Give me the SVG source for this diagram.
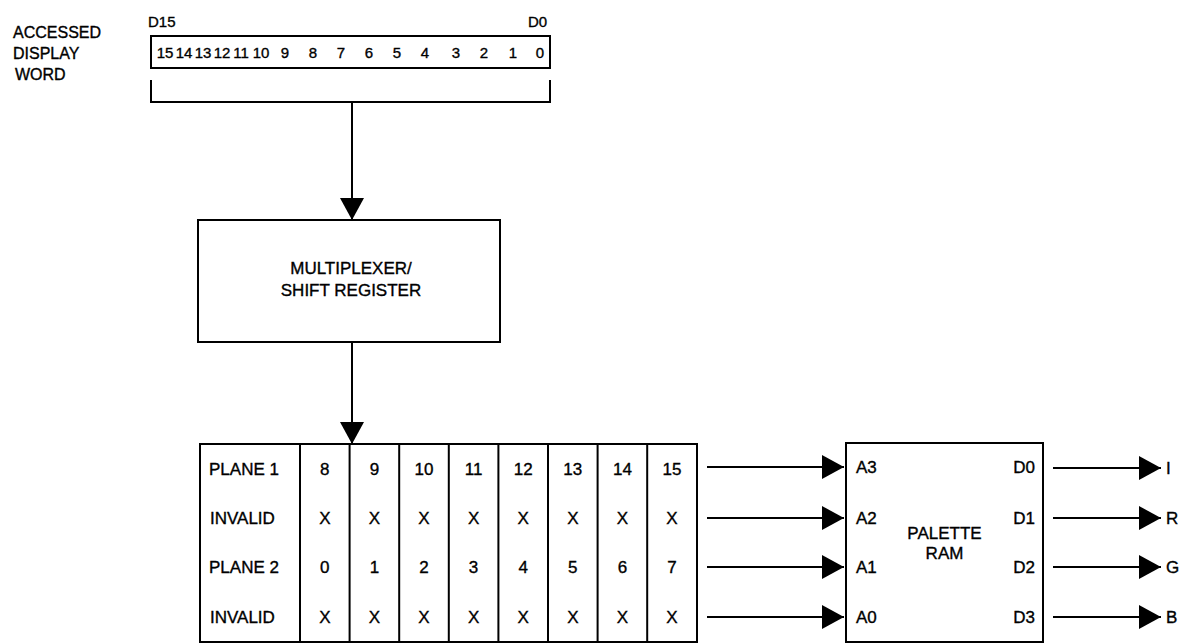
<svg xmlns="http://www.w3.org/2000/svg" width="1184" height="644" viewBox="0 0 1184 644">
<defs>
<marker id="ah" viewBox="0 0 22 24" markerWidth="22" markerHeight="24" refX="22" refY="12" orient="auto" markerUnits="userSpaceOnUse">
<path d="M0,0 L22,12 L0,24 Z" fill="#000"/>
</marker>
<style>
text{font-family:"Liberation Sans",Arial,sans-serif;fill:#000;stroke:#000;stroke-width:0.35}
.lbl{font-size:16px}
.sm{font-size:15px}
.cell{font-size:17px;text-anchor:middle}
.row{font-size:17px}
.box{fill:#fff;stroke:#000;stroke-width:2}
.ln{fill:none;stroke:#000;stroke-width:2}
.con{fill:none;stroke:#000;stroke-width:2;marker-end:url(#ah)}
</style>
</defs>
<rect width="1184" height="644" fill="#fff"/>

<g id="word-label">
<text class="lbl" x="13" y="38">ACCESSED</text>
<text class="lbl" x="13" y="59">DISPLAY</text>
<text class="lbl" x="15" y="80">WORD</text>
</g>

<g id="display-word">
<text class="sm" x="148" y="27">D15</text>
<text class="sm" x="528" y="27">D0</text>
<rect class="box" x="151" y="36" width="399" height="32"/>
<g class="sm" text-anchor="middle">
<text x="165" y="58">15</text>
<text x="184" y="58">14</text>
<text x="203" y="58">13</text>
<text x="222" y="58">12</text>
<text x="241" y="58">11</text>
<text x="261" y="58">10</text>
<text x="285" y="58">9</text>
<text x="313" y="58">8</text>
<text x="341" y="58">7</text>
<text x="369" y="58">6</text>
<text x="397" y="58">5</text>
<text x="425" y="58">4</text>
<text x="456" y="58">3</text>
<text x="484" y="58">2</text>
<text x="513" y="58">1</text>
<text x="540" y="58">0</text>
</g>
<path class="ln" d="M151,80 V102 H550 V80"/>
</g>

<g id="mux">
<rect class="box" x="198" y="220" width="302" height="122"/>
<text class="cell" x="351" y="274">MULTIPLEXER/</text>
<text class="cell" x="351" y="296">SHIFT REGISTER</text>
</g>

<g id="plane-table">
<rect class="box" x="200" y="444" width="497" height="198"/>
<path class="ln" d="M300,444V642M349.6,444V642M399.2,444V642M448.8,444V642M498.4,444V642M548,444V642M597.6,444V642M647.2,444V642"/>
<g class="row">
<text x="209" y="475">PLANE 1</text>
<text x="210" y="524">INVALID</text>
<text x="209" y="573">PLANE 2</text>
<text x="210" y="623">INVALID</text>
</g>
<g class="cell">
<text x="324.8" y="475">8</text><text x="374.4" y="475">9</text><text x="424" y="475">10</text><text x="473.6" y="475">11</text><text x="523.2" y="475">12</text><text x="572.8" y="475">13</text><text x="622.4" y="475">14</text><text x="672" y="475">15</text>
<text x="324.8" y="524">X</text><text x="374.4" y="524">X</text><text x="424" y="524">X</text><text x="473.6" y="524">X</text><text x="523.2" y="524">X</text><text x="572.8" y="524">X</text><text x="622.4" y="524">X</text><text x="672" y="524">X</text>
<text x="324.8" y="573">0</text><text x="374.4" y="573">1</text><text x="424" y="573">2</text><text x="473.6" y="573">3</text><text x="523.2" y="573">4</text><text x="572.8" y="573">5</text><text x="622.4" y="573">6</text><text x="672" y="573">7</text>
<text x="324.8" y="623">X</text><text x="374.4" y="623">X</text><text x="424" y="623">X</text><text x="473.6" y="623">X</text><text x="523.2" y="623">X</text><text x="572.8" y="623">X</text><text x="622.4" y="623">X</text><text x="672" y="623">X</text>
</g>
</g>

<g id="palette-ram">
<rect class="box" x="846" y="443" width="197" height="199"/>
<text class="cell" x="944.5" y="539">PALETTE</text>
<text class="cell" x="944.5" y="559">RAM</text>
<g class="row">
<text x="856" y="473">A3</text>
<text x="856" y="524">A2</text>
<text x="856" y="573">A1</text>
<text x="856" y="623">A0</text>
</g>
<g class="row" text-anchor="end">
<text x="1035" y="473">D0</text>
<text x="1035" y="524">D1</text>
<text x="1035" y="573">D2</text>
<text x="1035" y="623">D3</text>
</g>
</g>

<g id="outputs" class="row">
<text x="1166" y="474">I</text>
<text x="1166" y="524">R</text>
<text x="1166" y="573">G</text>
<text x="1166" y="623">B</text>
</g>

<g id="connectors">
<path class="con" d="M352,102 V220"/>
<path class="con" d="M352,342 V444"/>
<path class="con" d="M707,467 H844"/>
<path class="con" d="M707,518 H844"/>
<path class="con" d="M707,567 H844"/>
<path class="con" d="M707,617 H844"/>
<path class="con" d="M1053,468 H1161"/>
<path class="con" d="M1053,518 H1161"/>
<path class="con" d="M1053,567 H1161"/>
<path class="con" d="M1053,617 H1161"/>
</g>
</svg>
